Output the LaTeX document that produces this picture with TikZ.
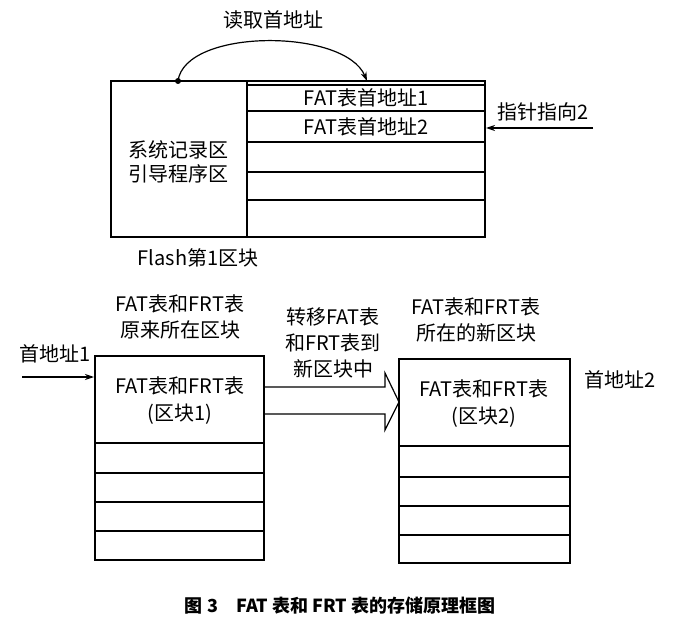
\documentclass[tikz,border=0pt]{standalone}
\usepackage{fontspec}
\setmainfont{Noto Sans CJK SC}
\usetikzlibrary{positioning,arrows.meta}
\tikzset{
  lbl/.style={font=\fontsize{20}{23}\selectfont,inner sep=0pt,align=center},
  blk/.style={draw,line width=1.2pt},
  ptr/.style={line width=1.2pt,-{Stealth[length=9pt,width=6pt]}}
}

\begin{document}
\begin{tikzpicture}[x=1pt,y=-1pt]
  \useasboundingbox (0,0) rectangle (674,636);

  % Flash block 1
  \draw [blk] (111,81) rectangle (485,237);
  \draw [blk] (247,81) -- (247,237);
  \foreach \y in {85,111,142,172,200}
    \draw [blk] (247,\y) -- (485,\y);
  \node [lbl] (sys) at (178,150) {系统记录区};
  \node [lbl] (boot) at (178,174) {引导程序区};
  \node [lbl] (addr1) at (366,98) {FAT表首地址1};
  \node [lbl] (addr2) at (366,127) {FAT表首地址2};
  \node [lbl] (flash) at (198,258) {Flash第1区块};
  \node [lbl] (read) at (273,20) {读取首地址};
  \node [lbl] (ptr2) at (543,112) {指针指向2};

  \coordinate (src) at (178,81);
  \coordinate (dst) at (367,81);
  \coordinate (ptrin) at (593,128);
  \coordinate (ptrout) at (486,128);
  \fill (src) circle (3pt);
  \draw [ptr] (src) .. controls (185,28) and (345,28) .. (dst);
  \draw [ptr] (ptrin) -- (ptrout);

  % old block
  \draw [blk] (95,356) rectangle (264,560);
  \foreach \y in {443,473,502,531}
    \draw [blk] (95,\y) -- (264,\y);
  \node [lbl] (old) at (180,401) {FAT表和FRT表\\[4pt](区块1)};
  \node [lbl] (oldtop) at (180,317) {FAT表和FRT表\\[3pt]原来所在区块};
  \node [lbl] (first1) at (55,354) {首地址1};
  \coordinate (in1) at (22,377);
  \coordinate (out1) at (94,377);
  \draw [ptr] (in1) -- (out1);

  % new block
  \draw [blk] (399,359) rectangle (570,563);
  \foreach \y in {446,477,506,535}
    \draw [blk] (399,\y) -- (570,\y);
  \node [lbl] (new) at (484,404) {FAT表和FRT表\\[4pt](区块2)};
  \node [lbl] (newtop) at (476,320) {FAT表和FRT表\\[3pt]所在的新区块};
  \node [lbl] (first2) at (620,380) {首地址2};

  % transfer arrow
  \node [lbl] (move) at (333,343) {转移FAT表\\[3pt]和FRT表到\\[3pt]新区块中};
  \draw [line width=1.2pt] (265,387) -- (385,387) -- (385,373) -- (399,402)
    -- (385,430) -- (385,414) -- (265,414);

  \node [font=\bfseries\fontsize{18}{21}\selectfont] (cap) at (340,606)
    {图 3\quad FAT 表和 FRT 表的存储原理框图};
\end{tikzpicture}
\end{document}
